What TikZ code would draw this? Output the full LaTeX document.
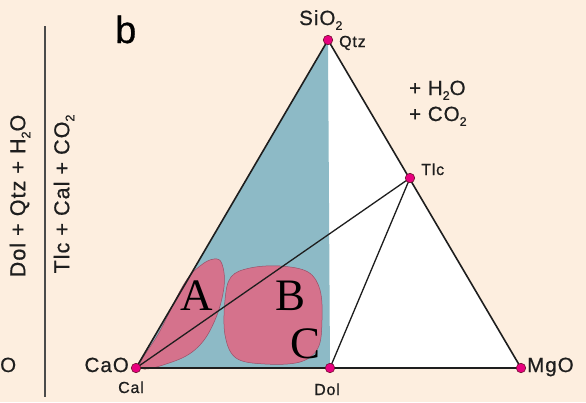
\documentclass[tikz,border=0pt]{standalone}
\usepackage{fontspec}
\setmainfont{Liberation Sans}[LetterSpace=5,FakeBold=0.7]
\newfontfamily\abcfont{Liberation Serif}
\definecolor{bgc}{HTML}{FDEEDF}
\definecolor{bluec}{HTML}{8DBAC6}
\definecolor{pinkc}{HTML}{D5728C}
\definecolor{pinkline}{HTML}{9A5068}
\definecolor{dotc}{HTML}{E8007F}
\definecolor{dotline}{HTML}{70102F}
\definecolor{linec}{HTML}{1E1E1E}
\tikzset{
  dotnode/.style={circle,fill=dotc,draw=dotline,line width=0.6pt,inner sep=0pt,minimum size=9.5pt},
  biglbl/.style={inner sep=0pt,font=\fontsize{20.5}{23}\selectfont,text=linec},
  rotlbl/.style={inner sep=0pt,font=\fontsize{21.5}{24}\selectfont,text=linec,rotate=90},
  smalllbl/.style={inner sep=0pt,font=\fontsize{16}{18}\selectfont,text=linec},
  regionlbl/.style={inner sep=0pt,font=\abcfont\fontsize{45}{50}\selectfont,text=black},
  edge/.style={draw=linec,line width=1.6pt,line join=round},
  tie/.style={draw=linec,line width=1.3pt},
  blob/.style={fill=pinkc,draw=pinkline,line width=0.5pt}
}
\newcommand{\lowsub}[1]{\raisebox{-0.45ex}{\fontsize{12.5}{12.5}\selectfont #1}}
\begin{document}
\begin{tikzpicture}[x=1pt,y=-1pt]
\useasboundingbox (0,0) rectangle (586,402);
\fill[bgc] (0,0) rectangle (586,402);
% vertices
\coordinate (Si) at (328,40);
\coordinate (Cal) at (136,368);
\coordinate (Dol) at (330,368);
\coordinate (Mg) at (521,368);
\coordinate (Tlc) at (410,178);
% fills
\fill[white] (Cal) -- (Si) -- (Mg) -- cycle;
\fill[bluec] (Cal) -- (Si) -- (Dol) -- cycle;
% blobs
\path[blob] plot[smooth cycle,tension=0.65] coordinates {(140,367) (160,331) (184,284) (200,266) (214,259) (222,264) (224,287) (215,320) (198,347) (172,362)};
\path[blob] plot[smooth cycle,tension=0.6] coordinates {(225,300) (231,277) (250,268) (280,266) (308,272) (320,290) (322,320) (318,348) (300,362) (265,364) (236,358) (225,335)};
% lines
\draw[edge] (Cal) -- (Si) -- (Mg) -- cycle;
\draw[tie] (Cal) -- (Tlc);
\draw[tie] (Dol) -- (Tlc);
% dots
\node[dotnode] (dCal) at (Cal) {};
\node[dotnode] (dDol) at (Dol) {};
\node[dotnode] (dMg) at (Mg) {};
\node[dotnode] (dSi) at (Si) {};
\node[dotnode] (dTlc) at (Tlc) {};
% vertex labels
\node[biglbl,anchor=base east] (lCaO) at (129,372) {CaO};
\node[smalllbl,anchor=base] (lCal) at (131,393) {Cal};
\node[smalllbl,anchor=base] (lDol) at (327,395) {Dol};
\node[biglbl,anchor=base west] (lMgO) at (527,372) {MgO};
\node[biglbl,anchor=base west] (lSiO) at (299,25) {SiO\lowsub{2}};
\node[smalllbl,anchor=base west] (lQtz) at (339,47) {Qtz};
\node[smalllbl,anchor=base west] (lTlc) at (421,175) {Tlc};
\node[biglbl,anchor=base west] (lH2O) at (409,95) {+ H\lowsub{2}O};
\node[biglbl,anchor=base west] (lCO2) at (409,121) {+ CO\lowsub{2}};
\node[inner sep=0pt,anchor=base west,font=\fontsize{38}{40}\selectfont,text=black] (lb) at (115,43) {b};
\node[biglbl,anchor=base west] (lO) at (0,372) {O};
% reaction
\draw[draw=linec!80,line width=1.5pt] (45,26) coordinate (rtop) -- (45,397) coordinate (rbot);
\node[rotlbl] (lreac) at (20,196) {Dol + Qtz + H\lowsub{2}O};
\node[rotlbl] (lprod) at (64,194) {Tlc + Cal + CO\lowsub{2}};
% region labels
\node[regionlbl,anchor=base] (lA) at (197,310) {A};
\node[regionlbl,anchor=base] (lB) at (291,310) {B};
\node[regionlbl,anchor=base] (lC) at (306,358) {C};
\end{tikzpicture}
\end{document}
